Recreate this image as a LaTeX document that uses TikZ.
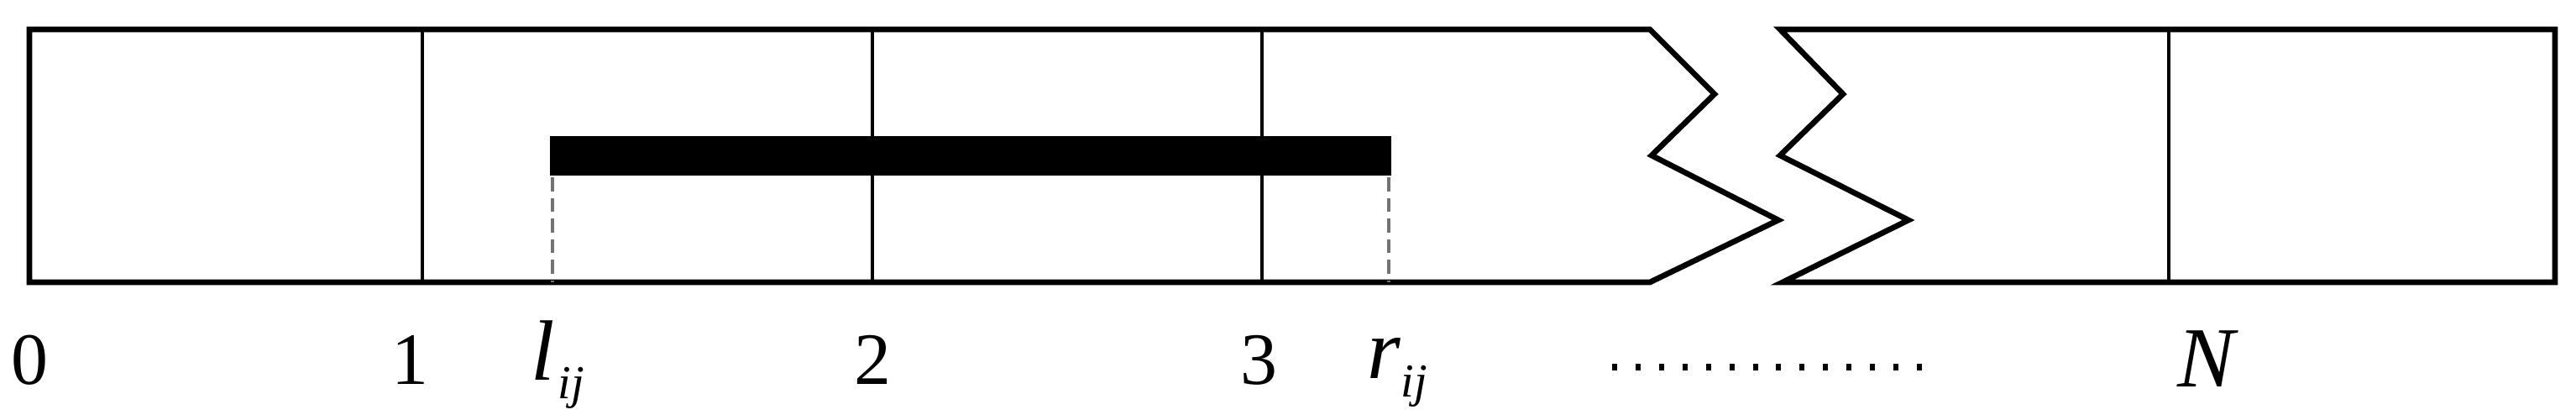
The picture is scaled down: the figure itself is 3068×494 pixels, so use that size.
\documentclass[tikz,border=0pt]{standalone}
\usepackage{fontspec}
\setmainfont{Liberation Serif}
\tikzset{
    box/.style={line width=1.9pt, line join=miter},
    cell/.style={line width=1.3pt},
    guide/.style={black!55, line width=1.1pt, dash pattern=on 4.7pt off 2.3pt},
    tick/.style={anchor=base, font=\fontsize{25}{30}\selectfont, inner sep=0pt},
    var/.style={anchor=base west, font=\fontsize{29}{34}\selectfont\itshape, inner sep=0pt}
}
\newcommand{\lowsub}[1]{\raisebox{-6.5pt}{\fontsize{16}{19}\selectfont\itshape #1}}
\begin{document}
\begin{tikzpicture}[x=0.01cm, y=-0.01cm]
    \useasboundingbox (0,0) rectangle (3068,494);

    \coordinate (tl) at (35,35);
    \coordinate (bl) at (35,336);
    \coordinate (tr) at (3043,35);
    \coordinate (br) at (3043,336);

    % left part with the break
    \draw[box] (1965,336) -- (bl) -- (tl) -- (1965,35)
        -- (2042,112) -- (1967,185) -- (2118,262) -- cycle;
    % right part with the break
    \draw[box] (2120,35) -- (tr) -- (br) -- (2123,336)
        -- (2273,262) -- (2120,185) -- (2195,112) -- cycle;

    \draw[cell] (503,35) -- (503,336);
    \draw[cell] (1039,35) -- (1039,336);
    \draw[cell] (1503,35) -- (1503,336);
    \draw[cell] (2583,35) -- (2583,336);

    \fill (655,162) rectangle (1657,209);
    \draw[guide] (658,211) -- (658,336);
    \draw[guide] (1654,211) -- (1654,336);

    \node[tick] (zero) at (35,457) {0};
    \node[tick] (one) at (488,457) {1};
    \node[var] (lij) at (632,452) {l\kern1pt\lowsub{ij}};
    \node[tick] (two) at (1039,457) {2};
    \node[tick] (three) at (1499,457) {3};
    \node[var] (rij) at (1628,450) {r\lowsub{ij}};
    \node[var, anchor=base] (bigN) at (2627,460) {N};

    \draw[line width=2.3pt, dash pattern=on 1.7pt off 6.24pt] (1920,437) -- (2292,437);
\end{tikzpicture}
\end{document}
